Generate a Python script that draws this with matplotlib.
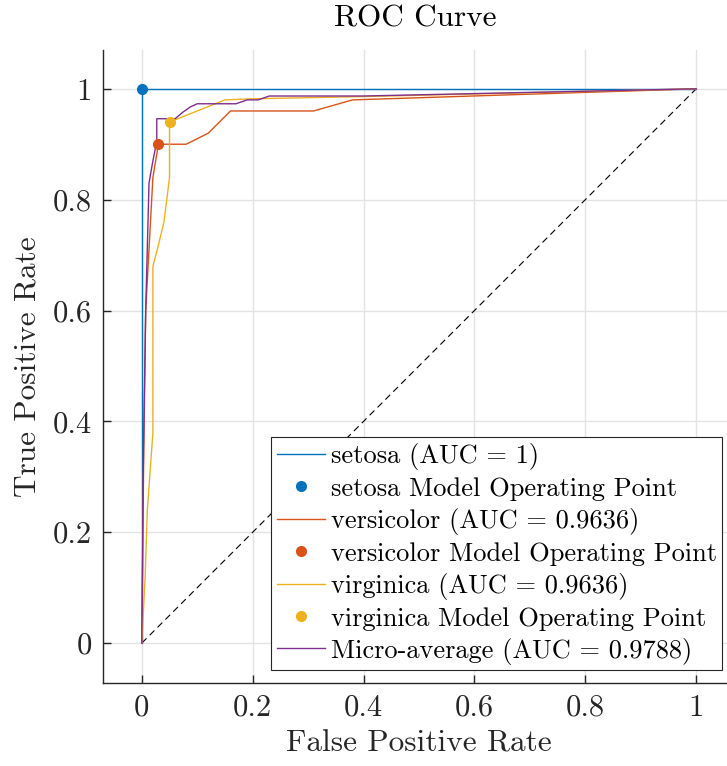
import matplotlib
matplotlib.use("Agg")
import matplotlib.pyplot as plt

plt.rcParams['font.family'] = ['cmr10', 'DejaVu Serif']
plt.rcParams['mathtext.fontset'] = 'cm'
plt.rcParams['axes.formatter.use_mathtext'] = True

# ROC curves (FPR, TPR) per class, read from rocmetrics output
setosa_fpr = [0, 0, 1]
setosa_tpr = [0, 1, 1]
setosa_op = (0.0, 1.0)

versicolor_fpr = [0, 0.003, 0.007, 0.02, 0.03, 0.08, 0.12, 0.16, 0.31, 0.38, 1]
versicolor_tpr = [0, 0.30, 0.60, 0.84, 0.90, 0.90, 0.92, 0.96, 0.96, 0.98, 1]
versicolor_op = (0.03, 0.90)

virginica_fpr = [0, 0.006, 0.01, 0.02, 0.02, 0.028, 0.04, 0.05, 0.05, 0.15, 0.2, 0.4, 1]
virginica_tpr = [0, 0.12, 0.24, 0.38, 0.68, 0.71, 0.76, 0.84, 0.94, 0.98, 0.982, 0.986, 1]
virginica_op = (0.05, 0.94)

micro_fpr = [0, 0.003, 0.007, 0.013, 0.02, 0.027, 0.027, 0.06, 0.073, 0.087,
             0.1, 0.17, 0.19, 0.21, 0.23, 0.4, 1]
micro_tpr = [0, 0.35, 0.60, 0.83, 0.87, 0.905, 0.946, 0.946, 0.957, 0.967,
             0.973, 0.973, 0.98, 0.98, 0.987, 0.987, 1]

auc = {'setosa': '1', 'versicolor': '0.9636', 'virginica': '0.9636', 'micro': '0.9788'}

c_set = '#0072BD'
c_ver = '#D95319'
c_vir = '#EDB120'
c_mic = '#7E2F8E'

fig = plt.figure(figsize=(7.27, 7.66), dpi=100)
ax = fig.add_axes([103/727, 1 - 683/766, 632/727, 633/766])

ax.plot([0, 1], [0, 1], '--', color='k', lw=0.8, dashes=(6, 4), zorder=1)

ax.plot(setosa_fpr, setosa_tpr, color=c_set, lw=1, label='setosa (AUC = %s)' % auc['setosa'], zorder=2)
ax.plot(*setosa_op, 'o', color=c_set, ms=7, label='setosa Model Operating Point', zorder=5)
ax.plot(versicolor_fpr, versicolor_tpr, color=c_ver, lw=1, label='versicolor (AUC = %s)' % auc['versicolor'], zorder=2)
ax.plot(*versicolor_op, 'o', color=c_ver, ms=7, label='versicolor Model Operating Point', zorder=5)
ax.plot(virginica_fpr, virginica_tpr, color=c_vir, lw=1, label='virginica (AUC = %s)' % auc['virginica'], zorder=2)
ax.plot(*virginica_op, 'o', color=c_vir, ms=7, label='virginica Model Operating Point', zorder=5)
ax.plot(micro_fpr, micro_tpr, color=c_mic, lw=1, label='Micro-average (AUC = %s)' % auc['micro'], zorder=3)

ax.set_xlim(-0.07, 1.07)
ax.set_ylim(-0.072, 1.07)
ticks = [0, 0.2, 0.4, 0.6, 0.8, 1]
ax.set_xticks(ticks)
ax.set_yticks(ticks)
ax.set_xticklabels(['0', '0.2', '0.4', '0.6', '0.8', '1'])
ax.set_yticklabels(['0', '0.2', '0.4', '0.6', '0.8', '1'])
ax.tick_params(direction='in', length=6, width=1, labelsize=22, colors='#262626', pad=8)
ax.grid(True, color='#e3e3e3', lw=1)
ax.set_axisbelow(True)
for s in ['top', 'right']:
    ax.spines[s].set_visible(False)
for s in ['left', 'bottom']:
    ax.spines[s].set_color('#262626')
    ax.spines[s].set_linewidth(1)

ax.set_xlabel('False Positive Rate', fontsize=22.5, color='#262626', labelpad=6)
ax.set_ylabel('True Positive Rate', fontsize=22.5, color='#262626', labelpad=8)
fig.text(415/727, 1 - 19/766, 'ROC Curve', fontsize=22.5, ha='center', va='center')

leg = ax.legend(loc='lower right', bbox_to_anchor=(722/727, 1 - 670/766),
                bbox_transform=fig.transFigure, borderaxespad=0, fontsize=19,
                fancybox=False, framealpha=1, edgecolor='#262626',
                handlelength=1.85, handletextpad=0.2, labelspacing=0.27,
                borderpad=0.2, numpoints=1)
leg.get_frame().set_linewidth(0.8)
leg.set_zorder(10)

fig.savefig('out.png', dpi=100)
